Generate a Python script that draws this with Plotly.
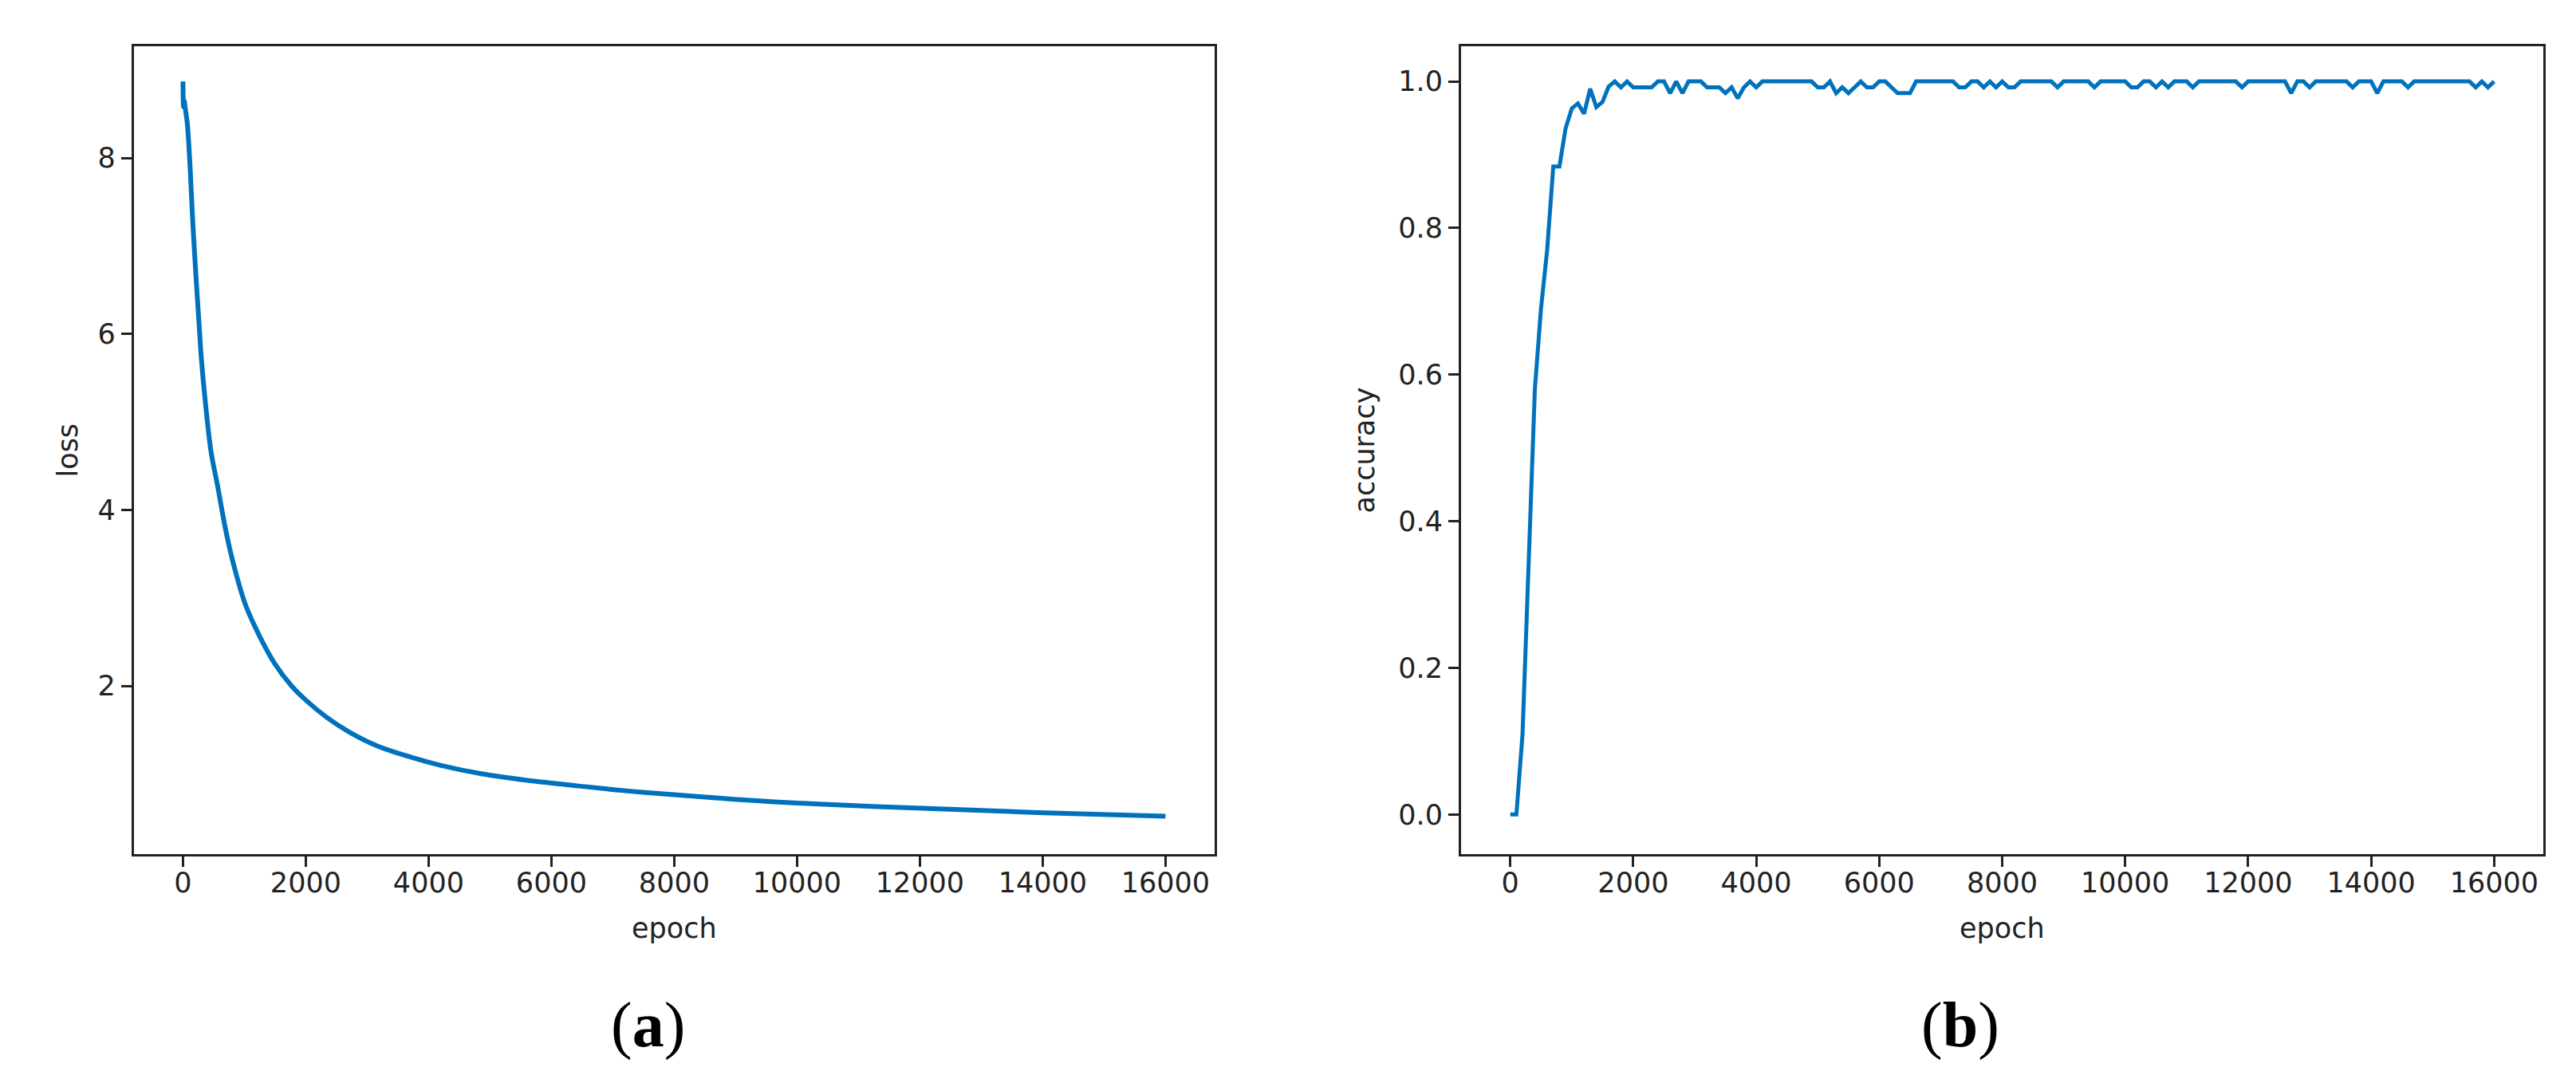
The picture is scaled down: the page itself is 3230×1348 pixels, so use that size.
import plotly.graph_objects as go

# loss curve
loss_epoch = [0, 10, 20, 40, 70, 120, 160, 210, 260, 300, 370, 460, 560, 700, 840,
              1020, 1260, 1490, 1770, 2000, 2330, 2700, 3160, 3720, 4190, 4880, 5580,
              6360, 7050, 7530, 8850, 10000, 12040, 14030, 16000]
loss_value = [8.87, 8.58, 8.65, 8.55, 8.40, 7.85, 7.27, 6.68, 6.14, 5.72, 5.19, 4.65, 4.29,
              3.76, 3.34, 2.92, 2.55, 2.26, 2.00, 1.84, 1.65, 1.48, 1.32, 1.19, 1.10, 1.00,
              0.93, 0.87, 0.82, 0.79, 0.72, 0.67, 0.61, 0.56, 0.52]

# accuracy, one value every 100 epochs
acc_step = 100
acc_value = [
    0.0, 0.0, 0.11, 0.36, 0.58, 0.69, 0.77, 0.884, 0.884, 0.936,
    0.963, 0.970, 0.956, 0.990, 0.965, 0.972, 0.993, 1.0, 0.992, 1.0,
    0.992, 0.992, 0.992, 0.992, 1.0, 1.0, 0.984, 1.0, 0.984, 1.0,
    1.0, 1.0, 0.992, 0.992, 0.992, 0.984, 0.992, 0.977, 0.992, 1.0,
    0.992, 1.0, 1.0, 1.0, 1.0, 1.0, 1.0, 1.0, 1.0, 1.0,
    0.992, 0.992, 1.0, 0.984, 0.992, 0.984, 0.992, 1.0, 0.992, 0.992,
    1.0, 1.0, 0.992, 0.984, 0.984, 0.984, 1.0, 1.0, 1.0, 1.0,
    1.0, 1.0, 1.0, 0.992, 0.992, 1.0, 1.0, 0.992, 1.0, 0.992,
    1.0, 0.992, 0.992, 1.0, 1.0, 1.0, 1.0, 1.0, 1.0, 0.992,
    1.0, 1.0, 1.0, 1.0, 1.0, 0.992, 1.0, 1.0, 1.0, 1.0,
    1.0, 0.992, 0.992, 1.0, 1.0, 0.992, 1.0, 0.992, 1.0, 1.0,
    1.0, 0.992, 1.0, 1.0, 1.0, 1.0, 1.0, 1.0, 1.0, 0.992,
    1.0, 1.0, 1.0, 1.0, 1.0, 1.0, 1.0, 0.984, 1.0, 1.0,
    0.992, 1.0, 1.0, 1.0, 1.0, 1.0, 1.0, 0.992, 1.0, 1.0,
    1.0, 0.984, 1.0, 1.0, 1.0, 1.0, 0.992, 1.0, 1.0, 1.0,
    1.0, 1.0, 1.0, 1.0, 1.0, 1.0, 1.0, 0.992, 1.0, 0.992,
    1.0,
]
acc_epoch = [i * acc_step for i in range(len(acc_value))]

x_ticks = [0, 2000, 4000, 6000, 8000, 10000, 12000, 14000, 16000]
x_tick_text = [str(v) for v in x_ticks]
loss_ticks = [2, 4, 6, 8]
acc_ticks = [0.0, 0.2, 0.4, 0.6, 0.8, 1.0]

W, H = 3230, 1348
line_color = '#0072BD'
ink = '#222222'
tick_font = dict(family='DejaVu Sans', size=35, color=ink)

fig = go.Figure()
fig.add_trace(go.Scatter(x=loss_epoch, y=loss_value, mode='lines',
                         line=dict(color=line_color, width=6, shape='spline', smoothing=1.0),
                         xaxis='x', yaxis='y'))
fig.add_trace(go.Scatter(x=acc_epoch, y=acc_value, mode='lines',
                         line=dict(color=line_color, width=5),
                         xaxis='x2', yaxis='y2'))

axis_style = dict(showline=True, mirror=True, linecolor=ink, linewidth=3,
                  ticks='outside', ticklen=13, tickwidth=2.5, tickcolor=ink,
                  tickfont=tick_font, showgrid=False, zeroline=False)

y_dom = [1 - 1063 / H, 1 - 50 / H]
fig.update_layout(
    width=W, height=H,
    margin=dict(l=0, r=0, t=0, b=0),
    paper_bgcolor='white', plot_bgcolor='white',
    showlegend=False,
    xaxis=dict(domain=[159.8 / W, 1515 / W], range=[-800, 16800],
               tickvals=x_ticks, ticktext=x_tick_text, ticklabelstandoff=-10,
               anchor='y', **axis_style),
    yaxis=dict(domain=y_dom, range=[0.09, 9.27], tickvals=loss_ticks,
               anchor='x', **axis_style),
    xaxis2=dict(domain=[1824 / W, 3181 / W], range=[-800, 16800],
                tickvals=x_ticks, ticktext=x_tick_text, ticklabelstandoff=-10,
                anchor='y2', **axis_style),
    yaxis2=dict(domain=y_dom, range=[-0.054, 1.048], tickvals=acc_ticks,
                tickformat='.1f', anchor='x2', **axis_style),
)

label_font = dict(family='DejaVu Sans', size=35, color=ink)
cap_font = dict(family='Liberation Serif', size=80, color='black')
yc = 1 - 556.5 / H
notes = [
    dict(text='epoch', x=(159.8 + 1515) / 2 / W, y=1 - 1156 / H, font=label_font),
    dict(text='epoch', x=(1824 + 3181) / 2 / W, y=1 - 1156 / H, font=label_font),
    dict(text='loss', x=76 / W, y=yc, textangle=-90, font=label_font),
    dict(text='accuracy', x=1702 / W, y=yc, textangle=-90, font=label_font),
    dict(text='(<b>a</b>)', x=804 / W, y=1 - 1277 / H, font=cap_font),
    dict(text='(<b>b</b>)', x=2450 / W, y=1 - 1277 / H, font=cap_font),
]
for n in notes:
    fig.add_annotation(xref='paper', yref='paper', showarrow=False,
                       xanchor='center', yanchor='middle', **n)

fig.write_html("out.html")
